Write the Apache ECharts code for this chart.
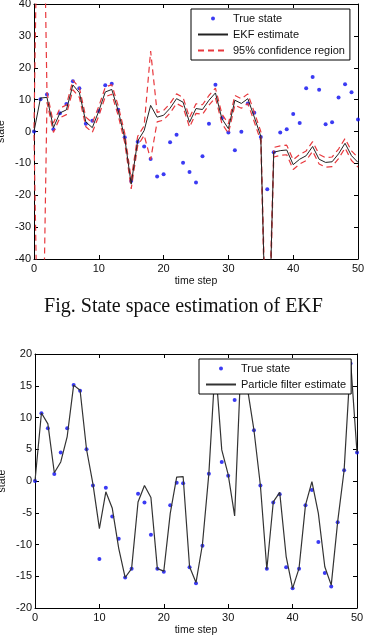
<!DOCTYPE html>
<html>
<head>
<meta charset="utf-8">
<script src="https://cdn.jsdelivr.net/npm/echarts@6/dist/echarts.min.js"></script>
<style>
  html, body { margin: 0; padding: 0; background: #fff; }
  #container { width: 367px; height: 637px; }
</style>
</head>
<body>
<div id="container"></div>
<script>
// time steps 0..50
var steps = [];
for (var i = 0; i <= 50; i++) steps.push(i);

// --- EKF figure ---
var ekfTrue = [0, 10.1, 11.6, 0.7, 5.7, 8.6, 15.8, 13.6, 2.4, 3.4, 6.4, 14.5, 15, 6.8, -1.8, -15.5,
  -3.2, -4.7, -8.6, -14.1, -13.4, -3.4, -1.0, -9.8, -12.7, -16, -7.8, 2.4, 14.7, 4.2, -0.3,
  -5.9, -0.1, 8.8, 5.9, -1.7, -18.1, -6.5, -0.3, 0.7, 5.5, 2.7, 13.6, 17.1, 13.1, 2.3,
  2.9, 10.7, 14.8, 12.3, 3.8];
var ekfEst = [0, 10.5, 10.7, 1.2, 5.8, 6.8, 14.6, 12.2, 3, 1.2, 6.4, 12.4, 13.2, 6.5, -2, -16.5,
  -3, 0.3, 8.2, 4.5, 5.1, 7.3, 10.3, 9.2, 2.9, 7.2, 6.9, 9.8, 12.1, 4, 0.9,
  9.8, 8.8, 10.3, 4.5, -1.5, -85, -6.5, -6, -5.8, -10.4, -8.7, -7.6, -4.7, -8.7, -9.7,
  -9.5, -7, -3.7, -7.6, -9.7];
var ekfUpper = [1, 140, 12.2, 2.7, 7.3, 8.3, 16.1, 13.7, 4.5, 2.7, 7.9, 13.9, 14.7, 8, -0.5, -15,
  -1.5, 1.8, 25.2, 6, 6.6, 8.8, 11.8, 10.7, 4.4, 8.7, 8.4, 11.3, 13.6, 5.5, 2.4,
  11.3, 10.3, 11.8, 6, 0, -80, -5, -4.5, -4.3, -8.9, -7.2, -6.1, -3.2, -7.2, -8.2,
  -8, -5.5, -2.2, -6.1, -8.2];
var ekfLower = [-1, -120, 9.2, -0.3, 4.3, 5.3, 13.1, 10.7, 1.5, -0.3, 4.9, 10.9, 11.7, 5, -3.5, -18,
  -4.5, -1.2, -8.8, 3, 3.6, 5.8, 8.8, 7.7, 1.4, 5.7, 5.4, 8.3, 10.6, 2.5, -0.6,
  8.3, 7.3, 8.8, 3, -3, -90, -8, -7.5, -7.3, -11.9, -10.2, -9.1, -6.2, -10.2, -11.2,
  -11, -8.5, -5.2, -9.1, -11.2];

// --- particle filter figure ---
var pfTrue = [0, 10.66, 8.3, 1.1, 4.5, 8.3, 15.1, 14.2, 5.0, -0.7, -12.3, -1.05, -5.6, -9.1, -15.2, -13.8,
  -2.0, -3.4, -8.45, -13.8, -14.3, -3.8, -0.26, -0.37, -13.6, -16.1, -10.2, 1.15, 18.5, 3.0, 0.84,
  12.75, 18.5, 15, 8.0, -0.7, -13.8, -3.4, -2.1, -13.6, -16.9, -13.8, -3.8, -1.4, -9.6, -14.5,
  -16.6, -6.5, 1.7, 18.5, 4.5];
var pfEst = [0, 10.7, 9.0, 1.3, 3.0, 7.0, 15.1, 14.3, 5.0, -0.5, -7.5, -1.7, -4.3, -10.6, -15.2, -13.8,
  -3.3, -0.7, -2.6, -13.8, -14.2, -5.1, 0.6, 0.7, -13.5, -16.0, -10.0, 1.2, 18.5, 4.9, 1.0,
  -5.5, 19, 14.5, 8.0, -0.7, -13.9, -3.3, -1.8, -11.9, -16.9, -13.75, -3.8, -0.1, -5.1, -13.5,
  -16.4, -6.4, 1.7, 19, 4.5];

function pairs(ys) {
  var out = [];
  for (var i = 0; i < ys.length; i++) out.push([steps[i], ys[i]]);
  return out;
}

var font = 'Liberation Sans, Arial, sans-serif';
var labelStyle = { color: '#111', fontSize: 11, fontFamily: font };

function xAx(grid, pos, show) {
  return {
    type: 'value', gridIndex: grid, position: pos, min: 0, max: 50, interval: 10,
    name: show ? 'time step' : '', nameLocation: 'middle', nameGap: 17, nameMoveOverlap: false,
    nameTextStyle: { color: '#111', fontSize: 10.5, fontFamily: font },
    axisLine: { show: true, onZero: false, lineStyle: { color: '#000', width: 1 } },
    axisTick: { show: true, inside: true, length: 4, lineStyle: { color: '#000' } },
    axisLabel: show ? Object.assign({ margin: 4 }, labelStyle) : { show: false },
    splitLine: { show: false }
  };
}
function yAx(grid, pos, show, min, max, step) {
  return {
    type: 'value', gridIndex: grid, position: pos, min: min, max: max, interval: step,
    name: show ? 'state' : '', nameLocation: 'middle', nameGap: 27, nameMoveOverlap: false,
    nameTextStyle: { color: '#111', fontSize: 10.5, fontFamily: font },
    axisLine: { show: true, onZero: false, lineStyle: { color: '#000', width: 1 } },
    axisTick: { show: true, inside: true, length: 4, lineStyle: { color: '#000' } },
    axisLabel: show ? Object.assign({ margin: 3 }, labelStyle) : { show: false },
    splitLine: { show: false }
  };
}

var dash = [6, 4];
var noDot = { color: 'rgba(0,0,0,0)', borderWidth: 0 };
var legendBase = {
  orient: 'vertical', itemWidth: 30, itemHeight: 4, itemGap: 3, z: 10,
  backgroundColor: '#fff', borderColor: '#000', borderWidth: 1, borderRadius: 0,
  padding: [3, 5, 3, 6], align: 'left',
  textStyle: { color: '#111', fontSize: 11, fontFamily: font, lineHeight: 13 }
};

var option = {
  animation: false,
  backgroundColor: '#fff',
  title: {
    text: 'Fig. State space estimation of EKF', left: 'center', top: 292,
    textStyle: { fontFamily: 'Liberation Serif, Times New Roman, serif', fontWeight: 'normal', fontSize: 20, color: '#111' }
  },
  grid: [
    { left: 34, top: 4, width: 324, height: 255, outerBoundsMode: 'none', containLabel: false },
    { left: 35, top: 354, width: 322, height: 254, outerBoundsMode: 'none', containLabel: false }
  ],
  legend: [
    Object.assign({ left: 191, top: 9, data: [
      'True state',
      { name: 'EKF estimate', itemStyle: noDot },
      { name: '95% confidence region', itemStyle: noDot }
    ] }, legendBase),
    Object.assign({ left: 199, top: 359, data: [
      'True state ',
      { name: 'Particle filter estimate', itemStyle: noDot }
    ] }, legendBase)
  ],
  xAxis: [xAx(0, 'bottom', true), xAx(0, 'top', false), xAx(1, 'bottom', true), xAx(1, 'top', false)],
  yAxis: [yAx(0, 'left', true, -40, 40, 10), yAx(0, 'right', false, -40, 40, 10),
          yAx(1, 'left', true, -20, 20, 5), yAx(1, 'right', false, -20, 20, 5)],
  series: [
    { name: '95% confidence region', type: 'line', xAxisIndex: 0, yAxisIndex: 0, data: pairs(ekfUpper),
      symbol: 'none', lineStyle: { color: '#e8383d', width: 1.2, type: dash }, itemStyle: { color: '#e8383d' } },
    { name: '95% confidence region', type: 'line', xAxisIndex: 0, yAxisIndex: 0, data: pairs(ekfLower),
      symbol: 'none', lineStyle: { color: '#e8383d', width: 1.2, type: dash }, itemStyle: { color: '#e8383d' } },
    { name: 'EKF estimate', type: 'line', xAxisIndex: 0, yAxisIndex: 0, data: pairs(ekfEst),
      symbol: 'none', lineStyle: { color: '#222', width: 1 }, itemStyle: { color: '#222' } },
    { name: 'True state', type: 'scatter', xAxisIndex: 0, yAxisIndex: 0, data: pairs(ekfTrue),
      symbol: 'circle', symbolSize: 4, itemStyle: { color: '#0a0af0' } },
    { name: 'Particle filter estimate', type: 'line', xAxisIndex: 2, yAxisIndex: 2, data: pairs(pfEst),
      symbol: 'none', lineStyle: { color: '#333', width: 1.2 }, itemStyle: { color: '#333' } },
    { name: 'True state ', type: 'scatter', xAxisIndex: 2, yAxisIndex: 2, data: pairs(pfTrue),
      symbol: 'circle', symbolSize: 4, itemStyle: { color: '#0a0af0' } }
  ]
};

var myChart = echarts.init(document.getElementById('container'));
myChart.setOption(option);
</script>
</body>
</html>
